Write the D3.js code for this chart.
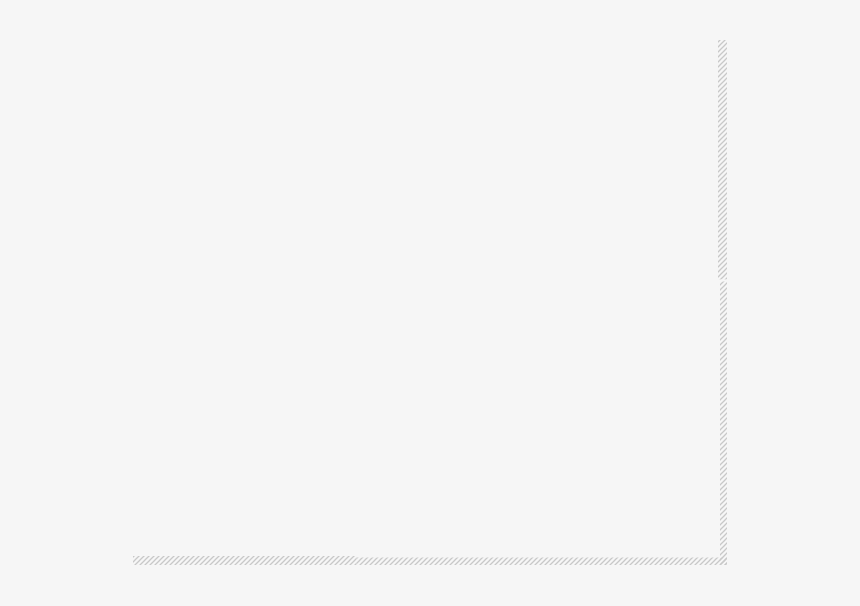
<!DOCTYPE html>
<html>
<head>
	<meta charset="utf-8">
	<title>Empty frame</title>
	<script src="https://cdn.jsdelivr.net/npm/d3@7"></script>
	<style>
		body { margin: 0; background: #f6f6f6; }
		svg { display: block; }
	</style>
</head>
<body>
	<script>
		// the two axis strips, each cut into segments (domain 0..100)
		var xSegments = [[0, 38], [38, 100]];
		var ySegments = [[0, 54], [54.4, 100]];

		var w = 860, h = 606;
		var margin = {left: 133, right: 133, top: 40, bottom: 41};

		var svg = d3.select('body').append('svg').attr('width', w).attr('height', h);

		svg.append('rect').attr('width', w).attr('height', h).attr('fill', '#f6f6f6');

		// hatch pattern
		var pat = svg.append('defs').append('pattern')
			.attr('id', 'hatch')
			.attr('patternUnits', 'userSpaceOnUse')
			.attr('width', 5).attr('height', 5);
		pat.append('path')
			.attr('d', 'M-1,1 l2,-2 M0,5 l5,-5 M4,6 l2,-2')
			.attr('stroke', '#c8c8c8').attr('stroke-width', 1.3);

		var xScale = d3.scaleLinear().domain([0, 100]).range([margin.left, w - margin.right - 6]);
		var yScale = d3.scaleLinear().domain([0, 100]).range([h - margin.bottom, margin.top]);

		var strip = 9;

		//bottom strip
		svg.append('g').attr('class', 'xStrip').selectAll('rect').data(xSegments).enter().append('rect')
			.attr('x', function(d) { return xScale(d[0]); })
			.attr('y', function(d, i) { return yScale(0) - strip + i * 1.5; })
			.attr('width', function(d, i) { return xScale(d[1]) - xScale(d[0]) + (i == 1 ? 6 : 0); })
			.attr('height', function(d, i) { return strip - i * 1.5; })
			.attr('fill', 'url(#hatch)');

		//right strip
		svg.append('g').attr('class', 'yStrip').selectAll('rect').data(ySegments).enter().append('rect')
			.attr('x', function(d, i) { return xScale(100) - 3 + (i == 0 ? 2 : 0); })
			.attr('y', function(d) { return yScale(d[1]); })
			.attr('width', function(d, i) { return strip - (i == 0 ? 2 : 0); })
			.attr('height', function(d) { return yScale(d[0]) - yScale(d[1]); })
			.attr('fill', 'url(#hatch)');
	</script>
</body>
</html>
